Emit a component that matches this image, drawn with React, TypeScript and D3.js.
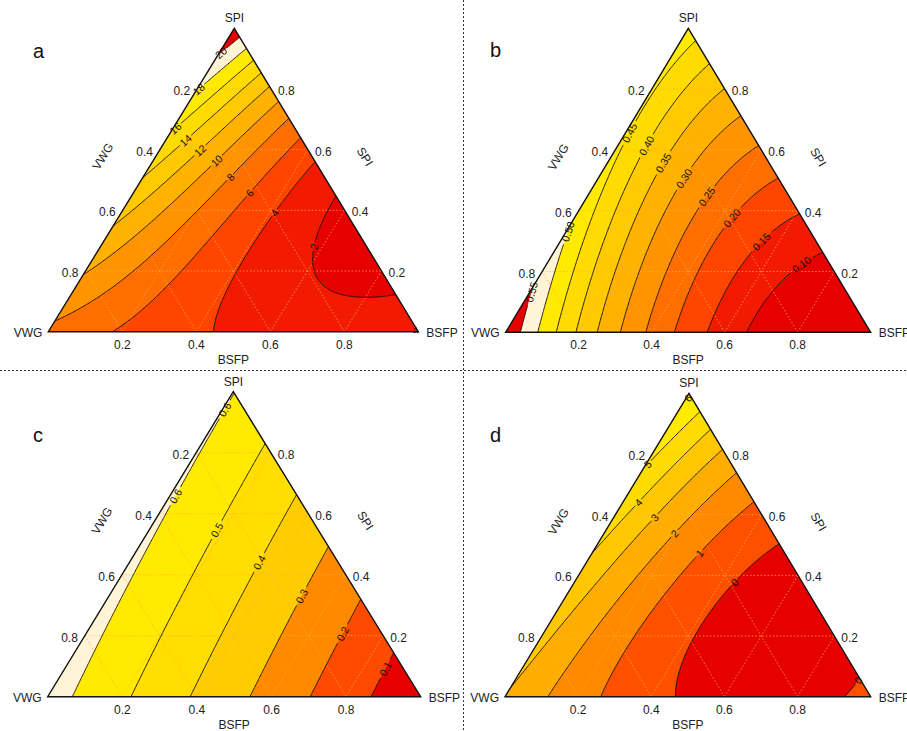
import React, { useMemo } from "react";
import * as d3 from "d3";

type Obs = [number, number, number, number];
type Lab = [number, number, number, number];

// ---------------- data ----------------
// component names: VWG (bottom-left), BSFP (bottom-right), SPI (top)
const vertexNames = ["VWG", "BSFP", "SPI"];
const tickValues = [0.2, 0.4, 0.6, 0.8];
const tickLabels = ["0.2", "0.4", "0.6", "0.8"];
const panelLetters = ["a", "b", "c", "d"];

const levelsA = [2, 4, 6, 8, 10, 12, 14, 16, 18, 20];
const levelsB = [0.1, 0.15, 0.2, 0.25, 0.3, 0.35, 0.4, 0.45, 0.5, 0.55];
const levelsC = [0.1, 0.2, 0.3, 0.4, 0.5, 0.6];
const levelsD = [0, 1, 2, 3, 4, 5, 6];

// observed response values at mixture points [VWG, BSFP, SPI, value]
const pointsA: Obs[] = [
  [1, 0, 0, 7.8], [0.856, 0.144, 0, 6], [0.55, 0.45, 0, 4], [0.25, 0.75, 0, 3.1], [0, 1, 0, 4.2],
  [0, 0.896, 0.104, 2], [0, 0.72, 0.28, 1.4], [0, 0.533, 0.467, 2], [0, 0.434, 0.566, 4],
  [0, 0.357, 0.643, 6], [0, 0.297, 0.703, 8], [0, 0.242, 0.758, 10], [0, 0.198, 0.802, 12],
  [0, 0.148, 0.852, 14], [0, 0.11, 0.89, 16], [0, 0.06, 0.94, 18], [0, 0.033, 0.967, 20], [0, 0, 1, 21.4],
  [0.951, 0, 0.049, 8], [0.797, 0, 0.203, 10], [0.643, 0, 0.357, 12], [0.51, 0, 0.49, 14],
  [0.33, 0, 0.67, 16], [0.23, 0, 0.77, 18], [0.094, 0, 0.906, 20],
  [0.135, 0.585, 0.28, 2], [0.13, 0.733, 0.137, 2], [0.093, 0.55, 0.357, 2],
  [0.192, 0.416, 0.392, 4], [0.365, 0.399, 0.236, 4], [0.484, 0.412, 0.104, 4],
  [0.451, 0.269, 0.28, 6], [0.228, 0.316, 0.456, 6], [0.255, 0.234, 0.511, 8], [0.624, 0.173, 0.203, 8],
  [0.268, 0.166, 0.566, 10], [0.293, 0.106, 0.601, 12], [0.315, 0.051, 0.634, 14],
];
const pointsB: Obs[] = [
  [1, 0, 0, 0.59], [0.954, 0.046, 0, 0.55], [0.909, 0.091, 0, 0.5], [0.863, 0.137, 0, 0.45],
  [0.804, 0.196, 0, 0.4], [0.749, 0.251, 0, 0.35], [0.689, 0.311, 0, 0.3], [0.621, 0.379, 0, 0.25],
  [0.543, 0.457, 0, 0.2], [0.447, 0.553, 0, 0.15], [0.329, 0.671, 0, 0.1], [0, 1, 0, 0.0],
  [0, 0.762, 0.238, 0.1], [0, 0.605, 0.395, 0.15], [0, 0.482, 0.518, 0.2], [0, 0.378, 0.622, 0.25],
  [0, 0.285, 0.715, 0.3], [0, 0.203, 0.797, 0.35], [0, 0.126, 0.874, 0.4], [0, 0.05, 0.95, 0.45], [0, 0, 1, 0.47],
  [0.872, 0, 0.128, 0.55], [0.62, 0, 0.38, 0.5], [0.345, 0, 0.655, 0.45],
  [0.08, 0.704, 0.216, 0.1], [0.154, 0.542, 0.304, 0.15], [0.194, 0.426, 0.38, 0.2],
  [0.225, 0.329, 0.446, 0.25], [0.258, 0.235, 0.507, 0.3], [0.288, 0.156, 0.556, 0.35],
  [0.307, 0.082, 0.611, 0.4], [0.33, 0.015, 0.655, 0.45],
];
const pointsC: Obs[] = [
  [1, 0, 0, 0.64], [0, 1, 0, 0.02], [0, 0, 1, 0.6],
  [0.936, 0.064, 0, 0.6], [0.775, 0.225, 0, 0.5], [0.614, 0.386, 0, 0.4],
  [0.453, 0.547, 0, 0.3], [0.292, 0.708, 0, 0.2], [0.134, 0.866, 0, 0.1],
  [0, 0.863, 0.137, 0.1], [0, 0.689, 0.311, 0.2], [0, 0.516, 0.484, 0.3],
  [0, 0.344, 0.656, 0.4], [0, 0.173, 0.827, 0.5],
  [0.5, 0, 0.5, 0.619], [0.472, 0.031, 0.497, 0.6], [0.15, 0.01, 0.84, 0.6],
  [0.279, 0.169, 0.552, 0.5], [0.217, 0.34, 0.443, 0.4], [0.161, 0.506, 0.333, 0.3],
  [0.109, 0.678, 0.213, 0.2], [0.055, 0.847, 0.098, 0.1],
];
const pointsD: Obs[] = [
  [1, 0, 0, 2.95], [0.884, 0.116, 0, 2], [0.743, 0.257, 0, 1], [0.524, 0.476, 0, 0],
  [0.3, 0.7, 0, -0.45], [0.082, 0.918, 0, 0], [0, 1, 0, 0.3],
  [0, 0.94, 0.06, 0], [0, 0.7, 0.3, -0.45], [0, 0.473, 0.527, 0], [0, 0.357, 0.643, 1],
  [0, 0.263, 0.737, 2], [0, 0.187, 0.813, 3], [0, 0.121, 0.879, 4], [0, 0.06, 0.94, 5], [0, 0, 1, 6.1],
  [0.99, 0, 0.01, 3], [0.527, 0, 0.473, 4], [0.25, 0, 0.75, 5], [0.033, 0, 0.967, 6],
  [0.233, 0.3, 0.467, 1], [0.183, 0.443, 0.374, 0], [0.27, 0.191, 0.539, 2], [0.298, 0.109, 0.593, 3],
  [0.433, 0.43, 0.137, 0], [0.319, 0.423, 0.258, 0], [0.2, 0.6, 0.2, -0.7],
];

// contour label positions [level, VWG, BSFP, SPI]
const labelsA: Lab[] = [
  [20, 0.105, 0.005, 0.89], [18, 0.225, 0.005, 0.77], [16, 0.325, 0.005, 0.67], [14, 0.315, 0.051, 0.634],
  [12, 0.293, 0.106, 0.601], [10, 0.268, 0.166, 0.566], [8, 0.255, 0.234, 0.511], [6, 0.228, 0.316, 0.456],
  [4, 0.192, 0.416, 0.392], [2, 0.144, 0.574, 0.282], [4, 0.005, 0.99, 0.005],
];
const labelsB: Lab[] = [
  [0.1, 0.08, 0.704, 0.216], [0.15, 0.154, 0.542, 0.304], [0.2, 0.194, 0.426, 0.38], [0.25, 0.225, 0.329, 0.446],
  [0.3, 0.258, 0.235, 0.507], [0.35, 0.288, 0.156, 0.556], [0.4, 0.307, 0.082, 0.611], [0.45, 0.33, 0.015, 0.655],
  [0.5, 0.63, 0.0, 0.37], [0.55, 0.83, 0.0, 0.17],
];
const labelsC: Lab[] = [
  [0.6, 0.054, 0.0, 0.946], [0.6, 0.331, 0.008, 0.661], [0.5, 0.279, 0.169, 0.552], [0.4, 0.217, 0.34, 0.443],
  [0.3, 0.161, 0.506, 0.333], [0.2, 0.109, 0.678, 0.213], [0.1, 0.055, 0.847, 0.098],
];
const labelsD: Lab[] = [
  [6, 0.04, 0.0, 0.96], [5, 0.247, 0.0, 0.753], [4, 0.32, 0.031, 0.649], [3, 0.298, 0.109, 0.593],
  [2, 0.27, 0.191, 0.539], [1, 0.233, 0.3, 0.467], [0, 0.183, 0.443, 0.374], [0, 0.01, 0.935, 0.055],
];

// ---------------- styles / layout ----------------
const heat10 = ["#E60000", "#F21A00", "#FF4500", "#FF6E00", "#FF9400", "#FFB300", "#FFCA00", "#FFDC00", "#FFEA00", "#FFF5D6"];
const colorsA = [...heat10, "#E80000"];
const colorsB = [...heat10, "#E80000"];
const colorsC = ["#E60000", "#FF4A00", "#FF8A00", "#FFCC00", "#FFDE00", "#FFEA00", "#FFF5D6"];
const colorsD = ["#E60000", "#FF5000", "#FF8A00", "#FFAE00", "#FFC800", "#FFDC00", "#FFEA00", "#FFF200"];

const layouts = [
  { vwg: [48.3, 331.7], bsfp: [418.3, 331.7], spi: [234.3, 28.3], letter: [33, 57.5] },
  { vwg: [505.7, 332.3], bsfp: [870.7, 332.3], spi: [688.3, 28.3], letter: [490, 57] },
  { vwg: [47.7, 696.7], bsfp: [420.7, 696.7], spi: [233.3, 391.7], letter: [33, 442] },
  { vwg: [505, 696.7], bsfp: [870.7, 696.7], spi: [689, 393.3], letter: [490, 442] },
];
const FONT = "'Liberation Sans', Arial, Helvetica, sans-serif";

// ---------------- mixture model (Scheffé polynomial) ----------------
function basis(a: number, b: number, c: number, nTerms: number) {
  const all = [a, b, c, a * b, a * c, b * c, a * b * (a - b), a * c * (a - c), b * c * (b - c), a * b * c];
  return all.slice(0, nTerms);
}
function fitModel(points: Obs[], p: number): number[] {
  const M = Array.from({ length: p }, () => new Array(p + 1).fill(0));
  for (const [a, b, c, v] of points) {
    const f = basis(a, b, c, p);
    for (let i = 0; i < p; i++) {
      for (let j = 0; j < p; j++) M[i][j] += f[i] * f[j];
      M[i][p] += f[i] * v;
    }
  }
  for (let i = 0; i < p; i++) M[i][i] += 1e-5;
  for (let col = 0; col < p; col++) {
    let piv = col;
    for (let r = col + 1; r < p; r++) if (Math.abs(M[r][col]) > Math.abs(M[piv][col])) piv = r;
    const tmp = M[col]; M[col] = M[piv]; M[piv] = tmp;
    for (let r = 0; r < p; r++) {
      if (r === col) continue;
      const f = M[r][col] / M[col][col];
      for (let k = col; k <= p; k++) M[r][k] -= f * M[col][k];
    }
  }
  return M.map((row, i) => row[p] / row[i]);
}
function evalModel(coef: number[], a: number, b: number, c: number) {
  const f = basis(a, b, c, coef.length);
  let s = 0;
  for (let i = 0; i < f.length; i++) s += coef[i] * f[i];
  return s;
}

type PanelProps = {
  idx: number; levels: number[]; colors: string[]; points: Obs[]; labels: Lab[]; fmt: (v: number) => string; terms: number;
};

function Panel({ idx, levels, colors, points, labels, fmt, terms }: PanelProps) {
  const lay = layouts[idx];
  const P1 = lay.vwg, P2 = lay.bsfp, P3 = lay.spi;
  const toPx = (a: number, b: number, c: number): [number, number] => [
    a * P1[0] + b * P2[0] + c * P3[0],
    a * P1[1] + b * P2[1] + c * P3[1],
  ];
  const det = (P2[1] - P3[1]) * (P1[0] - P3[0]) + (P3[0] - P2[0]) * (P1[1] - P3[1]);
  const toTern = (x: number, y: number): [number, number, number] => {
    const a = ((P2[1] - P3[1]) * (x - P3[0]) + (P3[0] - P2[0]) * (y - P3[1])) / det;
    const b = ((P3[1] - P1[1]) * (x - P3[0]) + (P1[0] - P3[0]) * (y - P3[1])) / det;
    return [a, b, 1 - a - b];
  };

  const comp = useMemo(() => {
    const coef = fitModel(points, terms);
    const step = 1.25;
    const x0 = P1[0] - 8, y0 = P3[1] - 8;
    const nx = Math.ceil((P2[0] - P1[0] + 16) / step) + 1;
    const ny = Math.ceil((P1[1] - P3[1] + 16) / step) + 1;
    const vals: number[] = new Array(nx * ny);
    for (let j = 0; j < ny; j++)
      for (let i = 0; i < nx; i++) {
        const [a, b, c] = toTern(x0 + i * step, y0 + j * step);
        vals[j * nx + i] = evalModel(coef, a, b, c);
      }
    const cs = d3.contours().size([nx, ny]).thresholds(levels)(vals);
    const map = (p: number[]): [number, number] => [x0 + (p[0] - 0.5) * step, y0 + (p[1] - 0.5) * step];
    const rings = cs.map((c) => c.coordinates.map((poly) => poly.map((ring) => ring.map(map))));
    const paths = rings.map((polys) =>
      polys.map((poly) => poly.map((ring) => "M" + ring.map((p) => p[0].toFixed(2) + "," + p[1].toFixed(2)).join("L") + "Z").join("")).join("")
    );
    const labs: { x: number; y: number; ang: number; text: string }[] = [];
    for (const [lev, a, b, c] of labels) {
      const li = levels.findIndex((l) => Math.abs(l - lev) < 1e-9);
      if (li < 0) continue;
      const [tx, ty] = toPx(a, b, c);
      let best = Infinity, bestRing: [number, number][] | null = null, bestK = 0;
      for (const poly of rings[li])
        for (const ring of poly)
          for (let k = 0; k < ring.length; k++) {
            const [px, py] = ring[k];
            const t = toTern(px, py);
            if (t[0] < 0.004 || t[1] < 0.004 || t[2] < 0.004) continue;
            const d = (px - tx) ** 2 + (py - ty) ** 2;
            if (d < best) { best = d; bestRing = ring; bestK = k; }
          }
      if (!bestRing || best > 900) continue;
      const n = bestRing.length;
      const p1 = bestRing[(bestK - 4 + n) % n], p2 = bestRing[(bestK + 4) % n];
      let ang = (Math.atan2(p2[1] - p1[1], p2[0] - p1[0]) * 180) / Math.PI;
      if (ang > 90) ang -= 180;
      if (ang <= -90) ang += 180;
      labs.push({ x: bestRing[bestK][0], y: bestRing[bestK][1], ang, text: fmt(lev) });
    }
    return { paths, labs };
  }, [idx]);

  const tri = [P1, P2, P3].map((p) => p.join(",")).join(" ");
  const clipId = `clip-${idx}`, maskId = `mask-${idx}`;

  const grid: [number, number, number, number][] = [];
  for (const v of tickValues) {
    const a1 = toPx(v, 1 - v, 0), a2 = toPx(v, 0, 1 - v);
    const b1 = toPx(1 - v, v, 0), b2 = toPx(0, v, 1 - v);
    const c1 = toPx(1 - v, 0, v), c2 = toPx(0, 1 - v, v);
    grid.push([a1[0], a1[1], a2[0], a2[1]], [b1[0], b1[1], b2[0], b2[1]], [c1[0], c1[1], c2[0], c2[1]]);
  }

  // axis title geometry
  const leftMid = [(P1[0] + P3[0]) / 2, (P1[1] + P3[1]) / 2];
  const lu = [P3[0] - P1[0], P3[1] - P1[1]];
  const lLen = Math.hypot(lu[0], lu[1]);
  const lAng = (Math.atan2(lu[1], lu[0]) * 180) / Math.PI;
  const lN = [lu[1] / lLen, -lu[0] / lLen];
  const rightMid = [(P2[0] + P3[0]) / 2, (P2[1] + P3[1]) / 2];
  const ru = [P2[0] - P3[0], P2[1] - P3[1]];
  const rLen = Math.hypot(ru[0], ru[1]);
  const rAng = (Math.atan2(ru[1], ru[0]) * 180) / Math.PI;
  const rN = [-ru[1] / rLen, ru[0] / rLen];
  const rNout = rN[0] > 0 ? rN : [-rN[0], -rN[1]];
  const lNout = lN[0] < 0 ? lN : [-lN[0], -lN[1]];
  const off = 45;

  return (
    <g>
      <defs>
        <clipPath id={clipId}>
          <polygon points={tri} />
        </clipPath>
        <mask id={maskId} maskUnits="userSpaceOnUse" x={0} y={0} width={907} height={731}>
          <rect x={0} y={0} width={907} height={731} fill="white" />
          {comp.labs.map((l, i) => (
            <rect key={i} x={-l.text.length * 3 - 1.5} y={-5.5} width={l.text.length * 6 + 3} height={11}
              fill="black" transform={`translate(${l.x},${l.y}) rotate(${l.ang})`} />
          ))}
        </mask>
      </defs>
      <g clipPath={`url(#${clipId})`}>
        <polygon points={tri} fill={colors[0]} />
        {comp.paths.map((d, i) => (
          <path key={i} d={d} fill={colors[i + 1]} fillRule="evenodd" />
        ))}
        {grid.map((g, i) => (
          <line key={i} x1={g[0]} y1={g[1]} x2={g[2]} y2={g[3]} stroke="#FFB23A" strokeOpacity={0.85}
            strokeWidth={0.9} strokeDasharray="1.5,2" />
        ))}
        <g mask={`url(#${maskId})`}>
          {comp.paths.map((d, i) => (
            <path key={i} d={d} fill="none" stroke="#1a1208" strokeWidth={0.95} />
          ))}
        </g>
      </g>
      <polygon points={tri} fill="none" stroke="#111" strokeWidth={1.4} strokeLinejoin="miter" />
      {comp.labs.map((l, i) => (
        <text key={i} transform={`translate(${l.x},${l.y}) rotate(${l.ang})`} textAnchor="middle"
          dominantBaseline="central" fontSize={10.5} fontFamily={FONT} fill="#111">{l.text}</text>
      ))}
      {tickValues.map((v, i) => {
        const pb = toPx(1 - v, v, 0);
        const pl = toPx(v, 0, 1 - v);
        const pr = toPx(0, 1 - v, v);
        return (
          <g key={i} fontSize={12} fontFamily={FONT} fill="#222">
            <text x={pb[0]} y={pb[1] + 17} textAnchor="middle">{tickLabels[i]}</text>
            <text x={pl[0] - 7} y={pl[1] + 6} textAnchor="end">{tickLabels[i]}</text>
            <text x={pr[0] + 7} y={pr[1] + 6} textAnchor="start">{tickLabels[i]}</text>
          </g>
        );
      })}
      <g fontSize={12} fontFamily={FONT} fill="#222">
        <text x={P1[0] - 6} y={P1[1] + 5} textAnchor="end">{vertexNames[0]}</text>
        <text x={P2[0] + 8} y={P2[1] + 5} textAnchor="start">{vertexNames[1]}</text>
        <text x={P3[0]} y={P3[1] - 6} textAnchor="middle">{vertexNames[2]}</text>
        <text x={(P1[0] + P2[0]) / 2} y={P1[1] + 32} textAnchor="middle">{vertexNames[1]}</text>
        <text transform={`translate(${leftMid[0] + lNout[0] * off},${leftMid[1] + lNout[1] * off}) rotate(${lAng})`}
          textAnchor="middle" dominantBaseline="central">{vertexNames[0]}</text>
        <text transform={`translate(${rightMid[0] + rNout[0] * off},${rightMid[1] + rNout[1] * off}) rotate(${rAng})`}
          textAnchor="middle" dominantBaseline="central">{vertexNames[2]}</text>
      </g>
      <text x={lay.letter[0]} y={lay.letter[1]} fontSize={20} fontFamily={FONT} fill="#111">{panelLetters[idx]}</text>
    </g>
  );
}

export default function App() {
  const f2 = d3.format(".2f");
  const f1 = d3.format(".1f");
  const fi = (v: number) => String(v);
  return (
    <svg width={907} height={731} viewBox="0 0 907 731"
      style={{ position: "absolute", left: 0, top: 0, background: "#fff" }}>
      <rect x={0} y={0} width={907} height={731} fill="#fff" />
      <Panel idx={0} levels={levelsA} colors={colorsA} points={pointsA} labels={labelsA} fmt={fi} terms={10} />
      <Panel idx={1} levels={levelsB} colors={colorsB} points={pointsB} labels={labelsB} fmt={f2} terms={10} />
      <Panel idx={2} levels={levelsC} colors={colorsC} points={pointsC} labels={labelsC} fmt={f1} terms={6} />
      <Panel idx={3} levels={levelsD} colors={colorsD} points={pointsD} labels={labelsD} fmt={fi} terms={10} />
      <line x1={0} y1={370.5} x2={907} y2={370.5} stroke="#333" strokeWidth={1} strokeDasharray="2,2" />
      <line x1={463.5} y1={0} x2={463.5} y2={731} stroke="#333" strokeWidth={1} strokeDasharray="2,2" />
    </svg>
  );
}
